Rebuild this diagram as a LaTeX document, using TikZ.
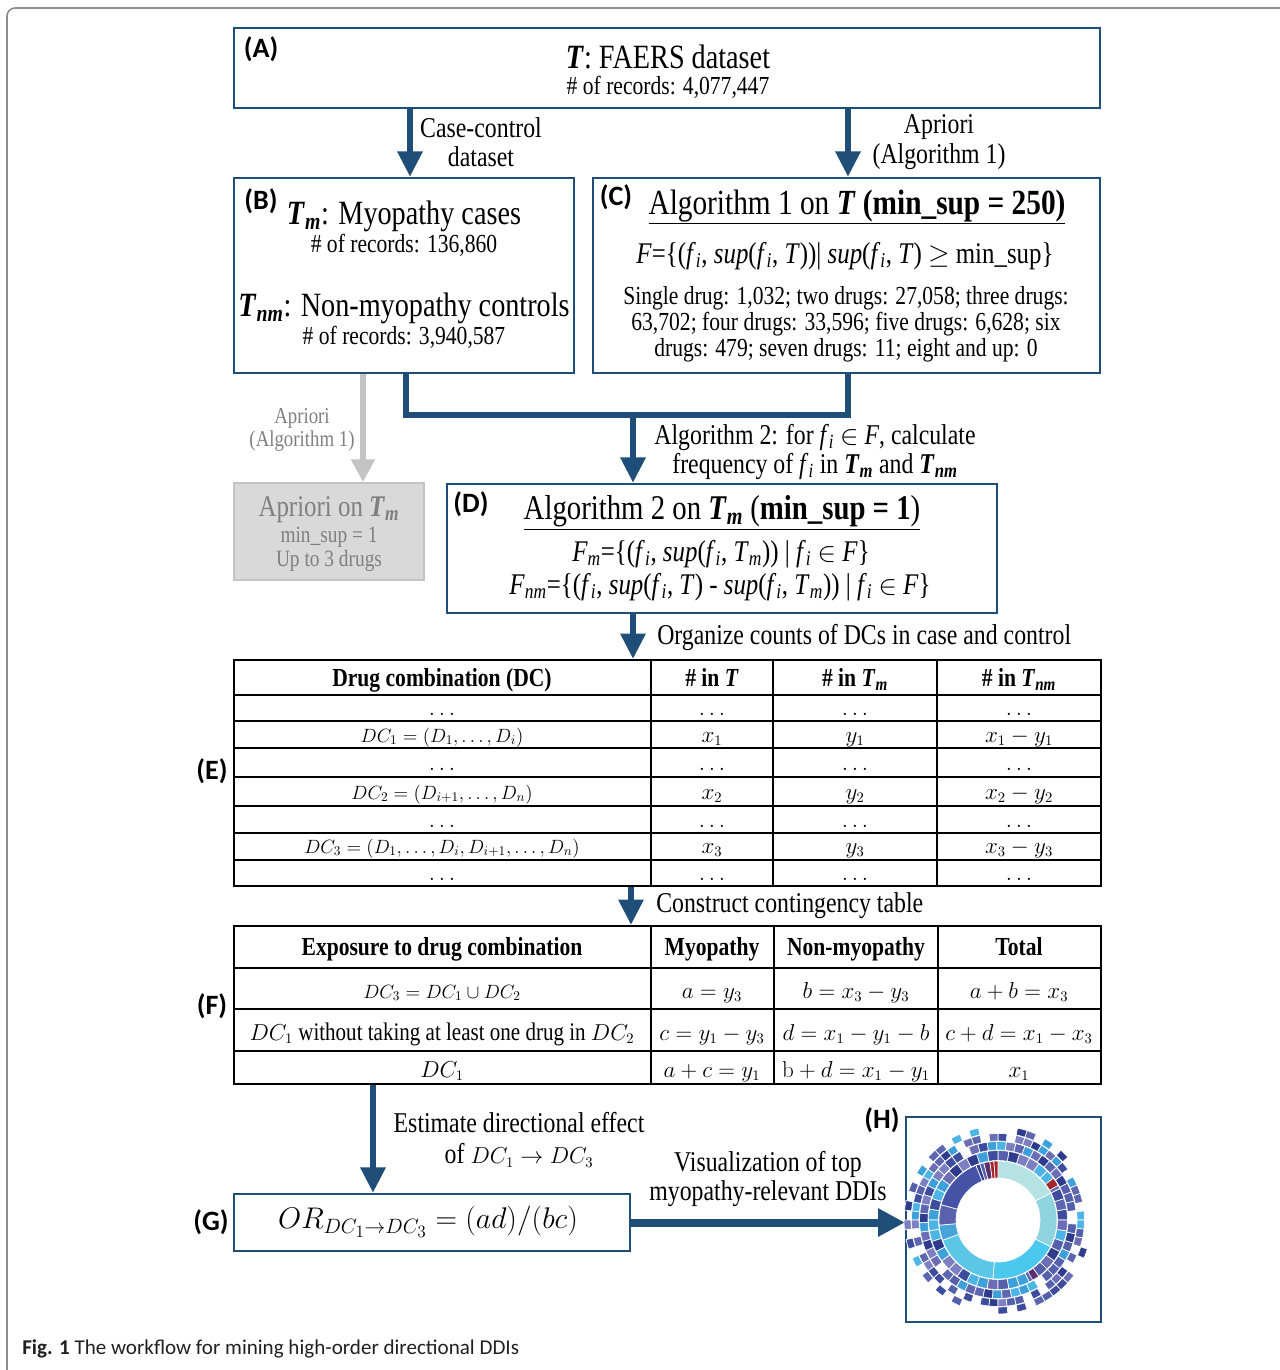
\documentclass[tikz,border=0pt]{standalone}
\usepackage{graphicx}
\usepackage[no-math]{fontspec}
\setmainfont{Liberation Serif}[FakeStretch=0.83]
\newfontfamily\labfont{Carlito}
\newfontfamily\capfont{Carlito}
\usetikzlibrary{arrows.meta,fit}

\definecolor{blu}{HTML}{1F4E79}
\definecolor{gry}{HTML}{C4C4C4}
\definecolor{gbox}{HTML}{D9D9D9}
\definecolor{gtext}{HTML}{7F7F7F}
\definecolor{captxt}{HTML}{231F20}
\definecolor{sbPale}{HTML}{B5E2E2}
\definecolor{sbLt}{HTML}{8FD3DF}
\definecolor{sbBright}{HTML}{4BC8EE}
\definecolor{sbCyan}{HTML}{5CC6E7}
\definecolor{sbBlue}{HTML}{47A4DB}
\definecolor{sbInd}{HTML}{5A62AD}
\definecolor{sbDk}{HTML}{4453A5}
\definecolor{sbPur}{HTML}{5B2F6D}
\definecolor{sbRed}{HTML}{A3262B}
\definecolor{sbk1}{HTML}{3E4C9E}
\definecolor{sbk2}{HTML}{5560AC}
\definecolor{sbk3}{HTML}{6C6DB5}
\definecolor{sbk4}{HTML}{7C7FC2}
\definecolor{sbk5}{HTML}{4CB5E6}
\definecolor{sbk6}{HTML}{3EA0DB}
\definecolor{sbk7}{HTML}{2F3C8E}
\definecolor{sbk8}{HTML}{5D66B0}

\newcommand\It[1]{\textit{#1}}
\newcommand\BI[1]{\textbf{\textit{#1}}}
\newcommand\myfi{\It{f}\textsubscript{\It{i}}}
\newcommand\Tm{\BI{T}\textsubscript{\BI{m}}}
\newcommand\Tnm{\BI{T}\textsubscript{\BI{nm}}}
\newcommand\mth[1]{{\fontsize{16}{19}\selectfont$#1$}}

\newcommand\sbseg[5]{\fill[fill=#5, draw=white, line width=0.5pt] (#1:#3) arc[start angle=#1, end angle=#2, radius=#3] -- (#2:#4) arc[start angle=#2, end angle=#1, radius=#4] -- cycle;}
\newcommand\sbring[4]{%
  \pgfmathtruncatemacro\sbn{360/#3-1}%
  \foreach \k in {0,...,\sbn}{%
    \pgfmathsetmacro\sba{\k*#3}%
    \pgfmathsetmacro\sbb{\sba+#3}%
    \pgfmathsetmacro\sbu{rnd}%
    \pgfmathrandominteger{\sbc}{1}{8}%
    \ifdim\sbu pt<#4pt
      \fill[fill=sbk\sbc, draw=white, line width=0.5pt] (\sba:#1) arc[start angle=\sba, end angle=\sbb, radius=#1] -- (\sbb:#2) arc[start angle=\sbb, end angle=\sba, radius=#2] -- cycle;
    \fi
  }}

\tikzset{
  box/.style={draw=blu, line width=1.8pt, inner sep=0pt},
  lab/.style={font=\labfont\bfseries\fontsize{21}{24}\selectfont, inner sep=0pt},
  ttl/.style={font=\fontsize{25.5}{30}\selectfont, inner sep=0pt, align=center},
  rec/.style={font=\fontsize{19.5}{19.5}\selectfont, inner sep=0pt, align=center},
  note/.style={font=\fontsize{21.5}{22}\selectfont, inner sep=0pt, align=center},
  form/.style={font=\fontsize{22.5}{25}\selectfont, inner sep=0pt, align=center},
  gnote/.style={font=\fontsize{17}{17.25}\selectfont, text=gtext, inner sep=0pt, align=center},
  thead/.style={anchor=base, inner sep=0pt, font=\fontsize{19.5}{22}\selectfont\bfseries},
  tcell/.style={anchor=base, inner sep=0pt, font=\fontsize{16}{19}\selectfont},
  tcellw/.style={anchor=base, inner sep=0pt, font=\fontsize{14.5}{19}\selectfont},
  arr/.style={draw=blu, line width=4.5pt, -{Triangle[length=19pt,width=18pt]}},
  arrW/.style={draw=blu, line width=6pt, -{Triangle[length=20pt,width=20pt]}},
  garr/.style={draw=gry, line width=4.5pt, -{Triangle[length=17pt,width=17pt]}},
  conn/.style={draw=blu, line width=5pt, line join=miter},
  tline/.style={draw=black, line width=0.9pt},
  tbox/.style={draw=black, line width=1.6pt, inner sep=0pt},
}

\begin{document}
\begin{tikzpicture}[x=0.75pt, y=-0.75pt]
\useasboundingbox (0,0) rectangle (1279,1370);
% outer frame
\draw[black!45, line width=1.2pt] (7,1372) -- (7,16) arc[start angle=180, end angle=270, radius=8] -- (1281,8);

% (A)
\node[box, fit={(234,28)(1100,108)}] (A) {};
\node[lab] (Al) at (261,49) {(A)};
\node[ttl] (At) at (668,57) {\BI{T}: FAERS dataset};
\node[rec] (Ar) at (668,87) {\# of records: 4,077,447};

% (B)
\node[box, fit={(234,178)(574,373)}] (B) {};
\node[lab] (Bl) at (261,201) {(B)};
\node[ttl] (Bt1) at (404,216) {\Tm: Myopathy cases};
\node[rec] (Br1) at (404,245) {\# of records: 136,860};
\node[ttl] (Bt2) at (404,308) {\Tnm: Non-myopathy controls};
\node[rec] (Br2) at (404,337) {\# of records: 3,940,587};

% (C)
\node[box, fit={(593,178)(1100,373)}] (C) {};
\node[lab] (Cl) at (616,197) {(C)};
\node[ttl, font=\fontsize{26.5}{30}\selectfont] (Ct) at (857,207) {\underline{Algorithm 1 on \BI{T} \textbf{(min\_sup = 250)}}};
\node[form] (Cf) at (845,256) {\It{F}=\{(\myfi, \It{sup}(\myfi, \It{T}))\textbar\ \It{sup}(\myfi, \It{T}) $\geq$ min\_sup\}};
\node[rec, font=\fontsize{19.5}{19.5}\selectfont] (Cb) at (846,324) {Single drug: 1,032; two drugs: 27,058; three drugs:\\63,702; four drugs: 33,596; five drugs: 6,628; six\\drugs: 479; seven drugs: 11; eight and up: 0};

% arrows from A
\coordinate (xa) at (410,0);
\coordinate (xc) at (848,0);
\draw[arr] (A.south -| xa) -- (B.north -| xa);
\draw[arr] (A.south -| xc) -- (C.north -| xc);
\node[note] (n1) at (481,142) {Case-control\\dataset};
\node[note] (n2) at (939,142) {Apriori\\(Algorithm 1)};

% gray branch
\node[draw=gry, fill=gbox, line width=1.4pt, inner sep=0pt, fit={(234,483)(424,580)}] (Gy) {};
\coordinate (xg) at (363,0);
\draw[garr] (B.south -| xg) -- (Gy.north -| xg);
\node[gnote] (n3) at (302,430) {Apriori\\(Algorithm 1)};
\node[inner sep=0pt, text=gtext, font=\fontsize{22.5}{24}\selectfont] (Gy1) at (329,510) {Apriori on \Tm};
\node[inner sep=0pt, text=gtext, font=\fontsize{17.5}{20}\selectfont] (Gy2) at (329,537) {min\_sup = 1};
\node[inner sep=0pt, text=gtext, font=\fontsize{17.5}{20}\selectfont] (Gy3) at (329,561) {Up to 3 drugs};

% (D)
\node[box, fit={(447,484)(997,613)}] (D) {};
\node[lab] (Dl) at (471,504) {(D)};
\node[ttl, font=\fontsize{26}{30}\selectfont] (Dt) at (722,513) {\underline{Algorithm 2 on \Tm{} (\textbf{min\_sup = 1})}};
\node[form] (Df1) at (721,554) {\It{F}\textsubscript{\It{m}}=\{(\myfi, \It{sup}(\myfi, \It{T}\textsubscript{\It{m}})) \textbar\ \myfi{} $\in$ \It{F}\}};
\node[form] (Df2) at (720,587) {\It{F}\textsubscript{\It{nm}}=\{(\myfi, \It{sup}(\myfi, \It{T}) - \It{sup}(\myfi, \It{T}\textsubscript{\It{m}})) \textbar\ \myfi{} $\in$ \It{F}\}};

% merge B,C -> D
\coordinate (j1) at (406,415);
\coordinate (j2) at (848,415);
\coordinate (j3) at (633,415);
\draw[conn] (B.south -| j1) -- (j1) -- (j2) -- (C.south -| j2);
\draw[arr] (j3) -- (D.north -| j3);
\node[note] (n4) at (815,452) {Algorithm 2: for \myfi{} $\in$ \It{F}, calculate\\frequency of \myfi{} in \Tm{} and \Tnm};

% (E) table
\node[tbox, fit={(234,660)(1101,886)}] (E) {};
\foreach \yy in {695,721,748,777,806,833,860} \draw[tline] (234,\yy) -- (1101,\yy);
\foreach \xx in {651,773,937} \draw[tline] (\xx,660) -- (\xx,886);
\coordinate (xd) at (633,0);
\draw[arr] (D.south -| xd) -- (E.north -| xd);
\node[note, anchor=west] (n5) at (657,637) {Organize counts of DCs in case and control};
\node[lab] (El) at (212,771) {(E)};
\node[thead] at (442,686) {Drug combination (DC)};
\node[thead] at (712,686) {\# in \BI{T}};
\node[thead] at (855,686) {\# in \BI{T}\textsubscript{\BI{m}}};
\node[thead] at (1019,686) {\# in \BI{T}\textsubscript{\BI{nm}}};
\foreach \yy in {715,770,827,880}{
  \node[tcell] at (442,\yy) {$\dots$};
  \node[tcell] at (712,\yy) {$\dots$};
  \node[tcell] at (855,\yy) {$\dots$};
  \node[tcell] at (1019,\yy) {$\dots$};
}
\node[tcellw] at (442,742) {$DC_1=(D_1,\dots,D_i)$};
\node[tcell] at (712,742) {$x_1$};
\node[tcell] at (855,742) {$y_1$};
\node[tcell] at (1019,742) {$x_1-y_1$};
\node[tcellw] at (442,799) {$DC_2=(D_{i+1},\dots,D_n)$};
\node[tcell] at (712,799) {$x_2$};
\node[tcell] at (855,799) {$y_2$};
\node[tcell] at (1019,799) {$x_2-y_2$};
\node[tcellw] at (442,853) {$DC_3=(D_1,\dots,D_i,D_{i+1},\dots,D_n)$};
\node[tcell] at (712,853) {$x_3$};
\node[tcell] at (855,853) {$y_3$};
\node[tcell] at (1019,853) {$x_3-y_3$};

% (F) table
\node[tbox, fit={(234,926)(1101,1084)}] (F) {};
\foreach \yy in {968,1009,1051} \draw[tline] (234,\yy) -- (1101,\yy);
\foreach \xx in {651,774,938} \draw[tline] (\xx,926) -- (\xx,1084);
\coordinate (xe) at (631,0);
\draw[arr] (E.south -| xe) -- (F.north -| xe);
\node[note, anchor=west] (n6) at (656,906) {Construct contingency table};
\node[lab] (Fl) at (212,1006) {(F)};
\node[thead] at (442,955) {Exposure to drug combination};
\node[thead] at (712,955) {Myopathy};
\node[thead] at (856,955) {Non-myopathy};
\node[thead] at (1019,955) {Total};
\node[tcellw] at (442,998) {$DC_3=DC_1\cup DC_2$};
\node[tcell] at (712,998) {$a=y_3$};
\node[tcell] at (856,998) {$b=x_3-y_3$};
\node[tcell] at (1019,998) {$a+b=x_3$};
\node[tcell, font=\fontsize{19}{22}\selectfont] at (442,1040) {\mth{DC_1} without taking at least one drug in \mth{DC_2}};
\node[tcell] at (712,1040) {$c=y_1-y_3$};
\node[tcell] at (856,1040) {$d=x_1-y_1-b$};
\node[tcell] at (1019,1040) {$c+d=x_1-x_3$};
\node[tcell] at (442,1077) {$DC_1$};
\node[tcell] at (712,1077) {$a+c=y_1$};
\node[tcell] at (856,1077) {$\mathrm{b}+d=x_1-y_1$};
\node[tcell] at (1019,1077) {$x_1$};

% (G)
\node[box, fit={(234,1194)(630,1251)}] (G) {};
\coordinate (xf) at (373,0);
\draw[arr] (F.south -| xf) -- (G.north -| xf);
\node[note, font=\fontsize{21.5}{23.25}\selectfont] (n7) at (519,1140) {Estimate directional effect\\of \mth{DC_1\to DC_3}};
\node[lab] (Gl) at (211,1222) {(G)};
\node[inner sep=0pt, font=\fontsize{20.74}{26}\selectfont] (Gf) at (428,1222) {\scalebox{1.08}{$OR_{DC_1\to DC_3}=(ad)/(bc)$}};

% (H)
\node[box, fit={(906,1117)(1101,1322)}] (H) {};
\node[lab] (Hl) at (882,1120) {(H)};
\draw[arrW] (G.east) -- (G.east -| H.west);
\node[note] (n8) at (768,1179) {Visualization of top\\myopathy-relevant DDIs};

% sunburst
\coordinate (hc) at (998,1220);
\begin{scope}[shift={(hc)}, x=0.75pt, y=0.75pt]
  \pgfmathsetseed{4242}
  \sbring{59.5}{69.5}{9}{1.0}
  \sbring{70}{78.5}{7}{0.95}
  \sbring{79}{86.5}{6}{0.75}
  \sbring{87}{94}{6}{0.45}
  \foreach \a/\b/\cl in {27/90/sbPale, -27/27/sbLt, -95/-27/sbBright, -160/-95/sbCyan, -175/-160/sbBlue, 165/185/sbInd, 112/165/sbDk, 108/112/sbk7, 104/108/sbk2, 98/104/sbPur, 94/98/sbRed, 90/94/sbRed}{
    \sbseg{\a}{\b}{42}{59}{\cl}
  }
  \sbseg{30}{37}{59.5}{69.5}{sbRed}
  \sbseg{-60}{-54}{59.5}{69.5}{sbPur}
\end{scope}

% caption
\node[anchor=west, inner sep=0pt, text=captxt, font=\capfont\fontsize{15.8}{18}\selectfont] (cap) at (22,1349) {\textbf{Fig. 1} The workflow for mining high-order directional DDIs};
\end{tikzpicture}
\end{document}
